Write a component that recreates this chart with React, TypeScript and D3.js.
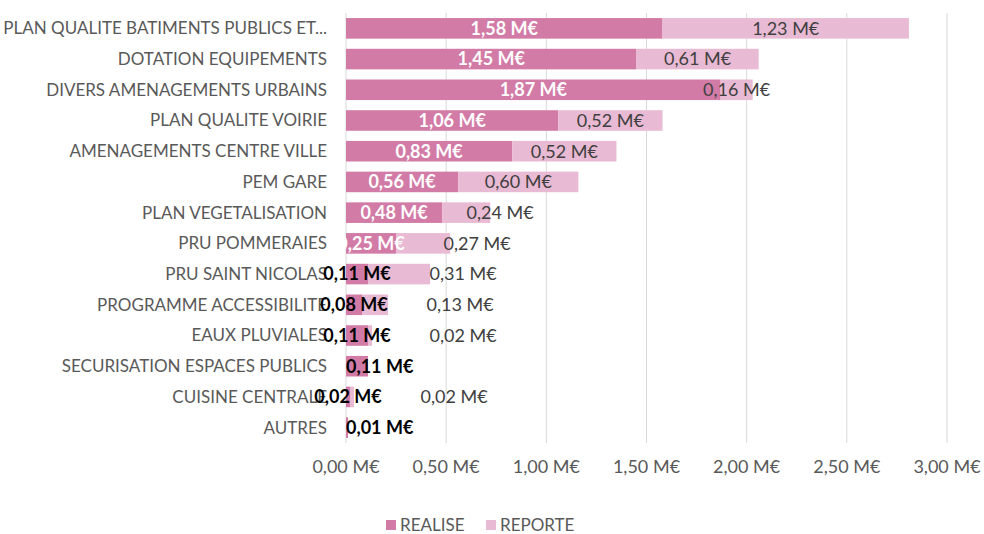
import { useEffect, useRef } from "react";
import * as d3 from "d3";

const categories = [
  "PLAN QUALITE BATIMENTS PUBLICS ET...",
  "DOTATION EQUIPEMENTS",
  "DIVERS AMENAGEMENTS URBAINS",
  "PLAN QUALITE VOIRIE",
  "AMENAGEMENTS CENTRE VILLE",
  "PEM GARE",
  "PLAN VEGETALISATION",
  "PRU POMMERAIES",
  "PRU SAINT NICOLAS",
  "PROGRAMME ACCESSIBILITE",
  "EAUX PLUVIALES",
  "SECURISATION ESPACES PUBLICS",
  "CUISINE CENTRALE",
  "AUTRES",
];

const realise = [1.58, 1.45, 1.87, 1.06, 0.83, 0.56, 0.48, 0.25, 0.11, 0.08, 0.11, 0.11, 0.02, 0.01];
const reporte = [1.23, 0.61, 0.16, 0.52, 0.52, 0.6, 0.24, 0.27, 0.31, 0.13, 0.02, 0, 0.02, 0];

const xTicks = [0, 0.5, 1, 1.5, 2, 2.5, 3];
const seriesNames = ["REALISE", "REPORTE"];

const COL_REALISE = "#d27ba7";
const COL_REPORTE = "#e9bad3";
const FONT = "Lato, 'Open Sans', sans-serif";

const fmt = (v: number) => v.toFixed(2).replace(".", ",") + " M€";

export default function App() {
  const svgRef = useRef<SVGSVGElement>(null);

  useEffect(() => {
    document.body.style.margin = "0";
    const svg = d3.select(svgRef.current);
    svg.selectAll("*").remove();

    const width = 984;
    const height = 534;
    const margin = { top: 13, right: 37, bottom: 91, left: 346 };

    const x = d3.scaleLinear().domain([0, 3]).range([margin.left, width - margin.right]);
    const y = d3
      .scaleBand()
      .domain(categories)
      .range([margin.top, height - margin.bottom])
      .paddingInner(0.33)
      .paddingOuter(0.165);

    // grid
    svg
      .append("g")
      .selectAll("line")
      .data(xTicks)
      .enter()
      .append("line")
      .attr("x1", (d) => x(d))
      .attr("x2", (d) => x(d))
      .attr("y1", margin.top)
      .attr("y2", height - margin.bottom)
      .attr("stroke", "#d9d9d9")
      .attr("stroke-width", 1);

    // tick labels
    svg
      .append("g")
      .selectAll("text")
      .data(xTicks)
      .enter()
      .append("text")
      .attr("x", (d) => x(d))
      .attr("y", 473)
      .attr("text-anchor", "middle")
      .attr("fill", "#595959")
      .style("font-family", FONT)
      .style("font-size", "18px")
      .text((d) => fmt(d));

    // category labels
    svg
      .append("g")
      .selectAll("text")
      .data(categories)
      .enter()
      .append("text")
      .attr("x", x(0) - 19)
      .attr("y", (d) => (y(d) as number) + y.bandwidth() / 2)
      .attr("dy", "0.35em")
      .attr("text-anchor", "end")
      .attr("fill", "#595959")
      .style("font-family", FONT)
      .style("font-size", "17px")
      .text((d) => d);

    const rows = categories.map((c, i) => ({ c, r: realise[i], p: reporte[i], i }));

    // bars
    const g = svg.append("g");
    g.selectAll("rect.realise")
      .data(rows)
      .enter()
      .append("rect")
      .attr("x", x(0))
      .attr("y", (d) => y(d.c) as number)
      .attr("width", (d) => x(d.r) - x(0))
      .attr("height", y.bandwidth())
      .attr("fill", COL_REALISE);
    g.selectAll("rect.reporte")
      .data(rows.filter((d) => d.p > 0))
      .enter()
      .append("rect")
      .attr("x", (d) => x(d.r))
      .attr("y", (d) => y(d.c) as number)
      .attr("width", (d) => x(d.r + d.p) - x(d.r))
      .attr("height", y.bandwidth())
      .attr("fill", COL_REPORTE);

    // data labels
    const labW = 69;
    const lg = svg.append("g").style("font-family", FONT).style("font-size", "18px");
    rows.forEach((d) => {
      const cy = (y(d.c) as number) + y.bandwidth() / 2;
      const x0 = x(0);
      const x1 = x(d.r);
      const x2 = x(d.r + d.p);
      const big = d.i < 8;
      let rx = (x0 + x1) / 2;
      let anchor = "middle";
      if (d.p === 0 && x1 - x0 < labW) {
        rx = x0;
        anchor = "start";
      }
      lg.append("text")
        .attr("x", rx)
        .attr("y", cy)
        .attr("dy", "0.35em")
        .attr("text-anchor", anchor)
        .attr("fill", big ? "#ffffff" : "#000000")
        .style("font-weight", "bold")
        .text(fmt(d.r));

      if (d.p > 0) {
        const rEnd = anchor === "middle" ? rx + labW / 2 : rx + labW;
        let px = (x1 + x2) / 2;
        let pa = "middle";
        if (px - labW / 2 < rEnd + 6) {
          px = rEnd + 38;
          pa = "start";
        }
        lg.append("text")
          .attr("x", px)
          .attr("y", cy)
          .attr("dy", "0.35em")
          .attr("text-anchor", pa)
          .attr("fill", "#404040")
          .text(fmt(d.p));
      }
    });

    // legend
    const leg = svg.append("g").attr("transform", "translate(386,525)");
    const items = leg
      .selectAll("g")
      .data(seriesNames)
      .enter()
      .append("g")
      .attr("transform", (_d, i) => `translate(${i * 100},0)`);
    items
      .append("rect")
      .attr("x", 0)
      .attr("y", -5)
      .attr("width", 10)
      .attr("height", 10)
      .attr("fill", (_d, i) => (i === 0 ? COL_REALISE : COL_REPORTE));
    items
      .append("text")
      .attr("x", 14)
      .attr("y", 0)
      .attr("dy", "0.35em")
      .attr("fill", "#595959")
      .style("font-family", FONT)
      .style("font-size", "17px")
      .text((d) => d);
  }, []);

  return <svg ref={svgRef} width={984} height={534} style={{ display: "block", background: "#fff" }} />;
}
